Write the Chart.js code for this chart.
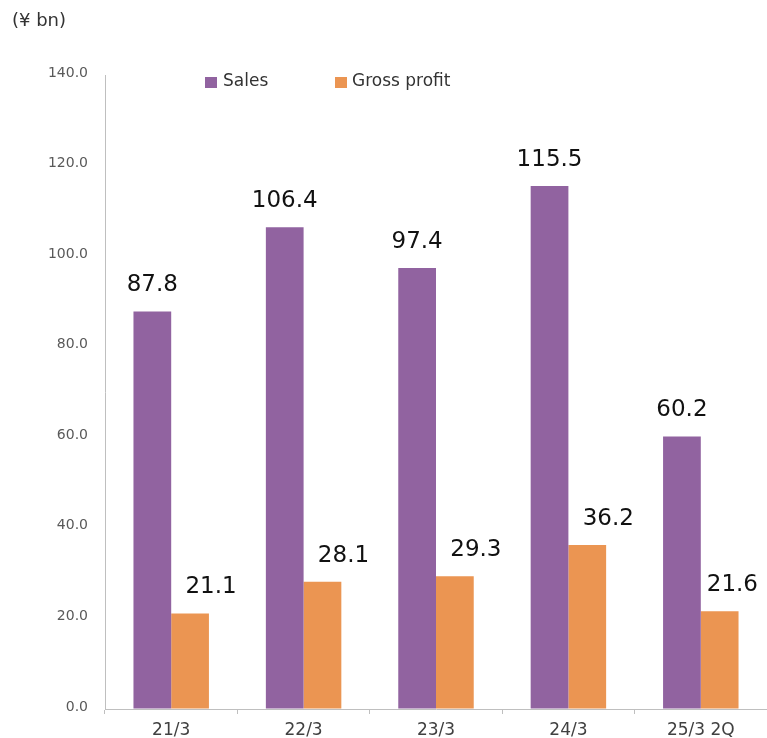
<!DOCTYPE html>
<html>
<head>
<meta charset="utf-8">
<script src="https://cdn.jsdelivr.net/npm/chart.js@4/dist/chart.umd.min.js"></script>
<style>
html,body{margin:0;padding:0;background:#fff;}
canvas{display:block;}
</style>
</head>
<body>
<canvas id="c" width="767" height="738"></canvas>
<script>
const categories = ["21/3", "22/3", "23/3", "24/3", "25/3 2Q"];
const sales = [87.8, 106.4, 97.4, 115.5, 60.2];
const grossProfit = [21.1, 28.1, 29.3, 36.2, 21.6];
const seriesNames = ["Sales", "Gross profit"];
const unitLabel = "(¥ bn)";

const FONT = "'DejaVu Sans', Verdana, sans-serif";
const PURPLE = "#9163A0";
const ORANGE = "#EB9552";

const valueLabels = {
  id: "valueLabels",
  afterDatasetsDraw(chart) {
    const ctx = chart.ctx;
    ctx.save();
    ctx.font = "23px " + FONT;
    ctx.fillStyle = "#111";
    ctx.textAlign = "center";
    ctx.textBaseline = "middle";
    const shift = [0, 21];
    chart.data.datasets.forEach((ds, di) => {
      chart.getDatasetMeta(di).data.forEach((bar, i) => {
        const txt = ds.data[i].toFixed(1);
        const w = ctx.measureText(txt).width;
        let x = bar.x + shift[di];
        x = Math.min(x, chart.chartArea.right - 9 - w / 2);
        ctx.fillText(txt, x, bar.y - 26);
      });
    });
    ctx.restore();
  }
};

const customLegend = {
  id: "customLegend",
  afterDraw(chart) {
    const ctx = chart.ctx;
    ctx.save();
    ctx.font = "17px " + FONT;
    ctx.textBaseline = "alphabetic";
    ctx.textAlign = "left";
    const pos = [{sx: 205, tx: 223}, {sx: 335, tx: 352}];
    chart.data.datasets.forEach((ds, di) => {
      ctx.fillStyle = ds.backgroundColor;
      ctx.fillRect(pos[di].sx, 77, 12, 11);
      ctx.fillStyle = "#333";
      ctx.fillText(ds.label, pos[di].tx, 86);
    });
    ctx.font = "18px " + FONT;
    ctx.fillStyle = "#333";
    ctx.textBaseline = "middle";
    ctx.fillText(unitLabel, 12, 21);
    ctx.restore();
  }
};

new Chart(document.getElementById("c"), {
  type: "bar",
  data: {
    labels: categories,
    datasets: [
      {label: seriesNames[0], data: sales, backgroundColor: PURPLE},
      {label: seriesNames[1], data: grossProfit, backgroundColor: ORANGE}
    ]
  },
  options: {
    responsive: false,
    devicePixelRatio: 1,
    animation: false,
    layout: {padding: {top: 75, left: 0, right: 0, bottom: 0}},
    datasets: {bar: {categoryPercentage: 0.57, barPercentage: 1.0}},
    plugins: {legend: {display: false}, tooltip: {enabled: false}},
    scales: {
      x: {
        afterFit(s) { s.height = 29; },
        grid: {display: true, drawOnChartArea: false, drawTicks: true, tickLength: 5, color: "#bfbfbf", offset: true},
        border: {display: true, color: "#bfbfbf", width: 1},
        ticks: {color: "#404040", font: {family: FONT, size: 17}, padding: 6, maxRotation: 0}
      },
      y: {
        min: 0, max: 140,
        afterFit(s) { s.width = 105; },
        grid: {display: true, drawOnChartArea: false, drawTicks: false},
        border: {display: true, color: "#bfbfbf", width: 1},
        ticks: {
          stepSize: 20, padding: 17, labelOffset: -2,
          color: "#595959", font: {family: FONT, size: 14},
          callback: v => Number(v).toFixed(1)
        }
      }
    }
  },
  plugins: [valueLabels, customLegend]
});
</script>
</body>
</html>
